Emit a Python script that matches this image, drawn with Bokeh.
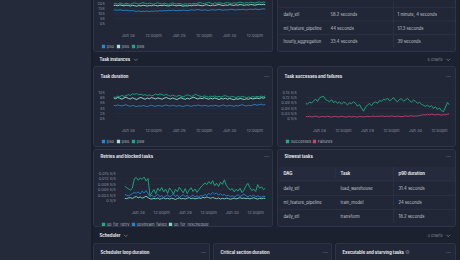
import numpy as np
from bokeh.plotting import figure
from bokeh.models import Spacer, FixedTicker, Range1d, Row, Column
from bokeh.core.properties import value
from bokeh.embed import file_html
from bokeh.resources import INLINE

# ---------------- data ----------------
t_start = "2025-06-27T17:00"
t_end = "2025-06-30T17:00"
x_tick_times = ["2025-06-28T00:00", "2025-06-28T12:00", "2025-06-29T00:00",
                "2025-06-29T12:00", "2025-06-30T00:00", "2025-06-30T12:00"]
x_tick_labels = ["Jun 28", "12:00pm", "Jun 29", "12:00pm", "Jun 30", "12:00pm"]

run_p50 = [13.6,13.8,13.4,13.9,13.5,13.2,13.6,13.1,12.9,13.3,12.6,12.4,12.8,12.2,12.5,12.3,12.7,12.1,12.6,12.4,
           12.9,12.5,13.0,12.7,13.2,12.9,13.4,13.1,13.6,13.3,13.0,13.5,13.2,13.7,13.4,13.1,13.6,13.9,13.5,13.8,
           14.2,13.7,13.4,13.9,13.6,13.3,13.8,14.0,13.6,13.9,14.3,13.8,13.5,14.0,13.7,14.1,14.5,14.0,13.7,14.2,
           13.9,14.4,14.1,13.8,14.3,14.6,14.2,14.8,14.4,14.1,14.6,14.9,14.5]
run_p90 = [18.2,18.6,18.0,18.9,18.4,17.9,18.7,18.3,17.8,18.5,18.1,17.6,18.3,17.9,18.6,18.2,17.7,18.4,18.0,18.8,
           18.3,17.9,18.5,18.1,18.7,18.2,17.8,18.4,18.9,18.3,17.9,18.6,18.2,17.6,18.1,17.8,18.4,18.0,18.7,18.3,
           18.9,18.4,18.0,18.6,19.1,18.5,18.1,18.8,18.3,18.9,19.3,18.7,18.2,18.9,18.5,19.2,18.8,18.4,19.0,18.6,
           19.3,18.9,18.5,19.1,18.7,19.4,19.0,18.6,19.2,19.6,19.1,19.5,19.0]
run_p99 = [19.8,20.5,19.6,20.9,20.2,19.5,20.7,20.1,19.4,20.3,21.0,20.4,19.7,20.6,21.2,20.5,19.9,20.8,20.2,19.6,
           20.4,21.1,20.3,19.8,20.7,20.0,19.5,20.2,20.9,20.3,19.7,20.5,19.9,19.4,20.1,19.6,20.3,19.8,20.6,20.0,
           20.8,21.3,20.6,20.1,20.9,21.5,20.8,20.2,21.0,20.5,21.2,20.7,20.1,20.9,21.4,20.8,20.3,21.1,20.6,21.3,
           21.8,21.1,20.6,21.4,20.9,21.7,21.2,20.8,21.5,22.0,21.3,21.9,21.4]
run_ticks = [0, 5, 10, 15, 20]
run_tick_labels = ["0s", "5s", "10s", "15s", "20s"]

task_p50 = [5.1,4.9,5.2,5.0,4.8,5.1,5.3,4.9,4.7,5.0,4.8,4.6,4.9,4.7,5.0,4.8,4.6,4.9,5.1,4.8,
            4.7,5.0,4.9,4.7,5.0,5.2,4.9,4.8,5.1,4.9,4.7,5.0,4.8,4.6,4.9,5.1,4.8,4.7,5.0,4.9,
            5.2,5.0,4.8,5.1,4.9,4.7,5.0,4.8,5.1,4.9,4.7,5.0,5.2,4.9,4.8,5.1,4.9,4.7,5.0,4.8,
            5.1,5.3,5.0,4.8,5.1,4.9,5.2,5.4,5.1,5.3,5.5,5.2,5.4]
task_p90 = [7.9,7.6,8.1,7.8,7.4,7.9,8.2,7.7,7.5,8.0,7.6,7.3,7.8,8.1,7.7,7.4,7.9,7.6,8.0,7.8,
            7.5,7.9,7.7,7.4,7.8,8.1,7.7,7.5,7.9,7.6,7.3,7.7,8.0,7.6,7.4,7.8,7.5,7.9,8.2,7.8,
            7.5,7.9,7.6,8.0,7.7,7.4,7.8,7.5,7.9,7.6,7.3,7.7,7.5,7.8,7.4,7.7,7.5,7.2,7.6,7.4,
            7.7,7.5,7.3,7.6,7.4,7.8,7.5,7.7,7.9,7.6,8.0,7.8,8.1]
task_p99 = [8.3,8.1,8.6,8.4,8.9,8.5,8.8,9.2,8.9,9.5,9.3,9.6,9.1,9.4,8.9,9.2,8.8,9.1,8.7,9.0,
            9.4,9.1,9.5,9.2,8.9,9.3,8.8,8.6,9.0,8.7,8.5,8.9,8.6,8.3,8.7,9.1,8.8,8.5,8.9,9.3,
            8.8,8.6,8.4,8.7,8.5,8.2,8.6,8.4,8.7,8.3,8.5,8.2,8.6,8.8,8.4,8.2,8.5,8.3,8.1,8.4,
            8.2,8.5,8.3,8.0,8.3,8.1,8.4,8.2,8.5,8.3,8.6,8.4,8.7]
task_ticks = [0, 2, 4, 6, 8, 10]
task_tick_labels = ["0s", "2s", "4s", "6s", "8s", "10s"]

successes = [0.088,0.082,0.095,0.090,0.101,0.112,0.098,0.118,0.125,0.128,0.110,0.104,0.097,0.108,0.092,0.100,
             0.087,0.096,0.083,0.094,0.089,0.078,0.091,0.085,0.097,0.088,0.072,0.080,0.060,0.042,0.065,0.078,
             0.086,0.074,0.090,0.096,0.088,0.104,0.099,0.112,0.106,0.118,0.102,0.109,0.121,0.105,0.097,0.110,
             0.114,0.100,0.108,0.116,0.103,0.095,0.106,0.099,0.088,0.093,0.082,0.076,0.070,0.078,0.066,0.074,
             0.058,0.068,0.052,0.061,0.045,0.040,0.066,0.092,0.078]
failures = [0.012,0.010,0.013,0.009,0.011,0.014,0.010,0.008,0.012,0.011,0.009,0.013,0.010,0.008,0.011,0.012,
            0.009,0.010,0.013,0.011,0.008,0.010,0.012,0.009,0.011,0.010,0.008,0.012,0.010,0.009,0.011,0.013,
            0.010,0.012,0.014,0.011,0.013,0.012,0.015,0.013,0.011,0.014,0.012,0.015,0.013,0.011,0.014,0.012,
            0.010,0.013,0.015,0.012,0.014,0.016,0.013,0.015,0.014,0.017,0.019,0.022,0.020,0.024,0.021,0.025,
            0.023,0.020,0.024,0.022,0.019,0.023,0.021,0.025,0.027]
rate_ticks = [0, 0.03, 0.06, 0.09, 0.12, 0.15]
rate_tick_labels = ["0 s/s", "0.03 s/s", "0.06 s/s", "0.09 s/s", "0.12 s/s", "0.15 s/s"]

up_for_retry = [0.0080,0.0072,0.0065,0.0058,0.0068,0.0120,0.0128,0.0112,0.0125,0.0118,0.0130,0.0108,0.0122,
                0.0027,0.0045,0.0060,0.0038,0.0068,0.0052,0.0072,0.0048,0.0063,0.0040,0.0070,0.0055,0.0036,
                0.0062,0.0049,0.0074,0.0058,0.0043,0.0066,0.0039,0.0057,0.0071,0.0050,0.0064,0.0045,0.0060,
                0.0075,0.0085,0.0098,0.0088,0.0105,0.0092,0.0110,0.0082,0.0096,0.0078,0.0102,0.0090,0.0115,
                0.0084,0.0070,0.0058,0.0066,0.0048,0.0062,0.0052,0.0068,0.0044,0.0058,0.0080,0.0095,0.0072,
                0.0055,0.0063,0.0050,0.0088,0.0068,0.0076,0.0060,0.0070]
upstream_failed = [0.0035,0.0030,0.0026,0.0032,0.0038,0.0045,0.0040,0.0048,0.0036,0.0052,0.0042,0.0055,0.0038,
                   0.0022,0.0030,0.0018,0.0026,0.0034,0.0020,0.0028,0.0016,0.0024,0.0032,0.0019,0.0027,0.0036,
                   0.0022,0.0030,0.0017,0.0025,0.0033,0.0021,0.0029,0.0015,0.0023,0.0031,0.0020,0.0026,0.0018,
                   0.0028,0.0024,0.0034,0.0027,0.0040,0.0032,0.0045,0.0036,0.0042,0.0030,0.0038,0.0028,0.0035,
                   0.0024,0.0030,0.0021,0.0027,0.0019,0.0025,0.0032,0.0022,0.0029,0.0036,0.0026,0.0020,0.0028,
                   0.0023,0.0031,0.0019,0.0026,0.0022,0.0018,0.0024,0.0020]
up_for_reschedule = [0.0012,0.0010,0.0014,0.0016,0.0011,0.0018,0.0022,0.0015,0.0020,0.0013,0.0017,0.0024,0.0016,
                     0.0010,0.0008,0.0012,0.0009,0.0014,0.0007,0.0011,0.0015,0.0009,0.0013,0.0008,0.0012,0.0010,
                     0.0006,0.0011,0.0014,0.0009,0.0012,0.0008,0.0013,0.0016,0.0010,0.0014,0.0009,0.0012,0.0015,
                     0.0011,0.0018,0.0014,0.0020,0.0016,0.0012,0.0017,0.0013,0.0010,0.0014,0.0008,0.0012,0.0009,
                     0.0013,0.0011,0.0007,0.0010,0.0013,0.0009,0.0012,0.0016,0.0011,0.0014,0.0010,0.0013,0.0009,
                     0.0012,0.0015,0.0011,0.0008,0.0012,0.0010,0.0013,0.0011]
retry_ticks = [0, 0.003, 0.006, 0.009, 0.012, 0.015]
retry_tick_labels = ["0 s/s", "0.003 s/s", "0.006 s/s", "0.009 s/s", "0.012 s/s", "0.015 s/s"]

dag_names = ["daily_etl", "ml_feature_pipeline", "hourly_aggregation"]
dag_p90 = ["58.2 seconds", "44 seconds", "33.4 seconds"]
dag_p99 = ["1 minute, 4 seconds", "51.3 seconds", "39 seconds"]

slow_headers = ["DAG", "Task", "p90 duration"]
slow_dags = ["daily_etl", "ml_feature_pipeline", "daily_etl"]
slow_tasks = ["load_warehouse", "train_model", "transform"]
slow_p90 = ["31.4 seconds", "24 seconds", "18.2 seconds"]

# ---------------- style ----------------
FONT = "Inter"
PAGE = "#1c2130"
SIDE = "#242a3a"
EDGE = "#191d29"
PANEL = "#212737"
BORDER = "#2e3546"
GRID = "#2a3141"
TITLE = "#e6e8ec"
SUB = "#858c9b"
LEG = "#aab0bc"
CELL = "#c0c5cf"
DOTS = "#737a8a"
C_P50 = "#2c86d1"
C_P90 = "#a3e2d8"
C_P99 = "#1aa985"
C_OK = "#1fae84"
C_FAIL = "#c8456f"
C_RETRY = "#1fae84"
C_UPF = "#2286d2"
C_RESCH = "#86d6c8"
TITLE_SIZE = "4.2px"
CELL_SIZE = "4.2px"


def ms(s):
    return float(np.datetime64(s, "ms").astype("int64"))


T0, T1 = ms(t_start), ms(t_end)
XT = [ms(s) for s in x_tick_times]


def text_fig(w, h, bg=PANEL):
    p = figure(width=w, height=h, x_range=Range1d(0, w), y_range=Range1d(h, 0),
               output_backend="svg", toolbar_location=None, frame_align=False, title=None,
               x_axis_location=None, y_axis_location=None, min_border=0,
               background_fill_color=bg, border_fill_color=bg, outline_line_color=None)
    p.grid.visible = False
    return p


def txt(p, xs, ys, ss, size, color, bold=False, align="left"):
    p.text(x=xs, y=ys, text=ss, text_font=value(FONT), text_font_size=size,
           text_color=color, text_font_style="bold" if bold else "normal",
           text_align=align, text_baseline="middle")


def chevron(p, x, y, color=SUB):
    p.line(x=[x, x + 1.8, x + 3.6], y=[y - 0.9, y + 0.9, y - 0.9], line_color=color, line_width=0.7)


def header(w, h, title, ty, dots_x, info_x=None):
    p = text_fig(w, h)
    txt(p, [6], [ty], [title], TITLE_SIZE, TITLE, bold=True)
    txt(p, [dots_x], [ty - 0.3], ["···"], "5px", DOTS, bold=True, align="center")
    if info_x is not None:
        p.circle(x=[info_x], y=[ty], radius=1.6, fill_color=None, line_color=SUB, line_width=0.6)
        txt(p, [info_x], [ty + 0.1], ["i"], "2.5px", SUB, bold=True, align="center")
    return p


def chart(w, h, mb, ymax, yticks, ylabels, series):
    p = figure(width=w, height=h, x_range=Range1d(T0, T1), y_range=Range1d(0, ymax),
               output_backend="svg", toolbar_location=None, frame_align=False, title=None,
               min_border_left=mb[0], min_border_right=mb[1], min_border_top=mb[2], min_border_bottom=mb[3],
               background_fill_color=PANEL, border_fill_color=PANEL, outline_line_color=None)
    for vals, col in series:
        p.line(np.linspace(T0, T1, len(vals)), vals, line_color=col, line_width=0.9)
    xa, ya = p.xaxis[0], p.yaxis[0]
    xa.ticker = FixedTicker(ticks=XT)
    xa.major_label_overrides = dict(zip(XT, x_tick_labels))
    ya.ticker = FixedTicker(ticks=yticks)
    ya.major_label_overrides = dict(zip(yticks, ylabels))
    for a in (xa, ya):
        a.axis_line_color = None
        a.major_tick_line_color = None
        a.minor_tick_line_color = None
        a.major_label_text_font = FONT
        a.major_label_text_font_size = "4px"
        a.major_label_text_color = SUB
        a.major_label_standoff = 3
    p.xgrid.visible = False
    p.ygrid.ticker = FixedTicker(ticks=yticks)
    p.ygrid.grid_line_color = GRID
    p.ygrid.grid_line_width = 0.5
    return p


def legend(w, h, cy, xs, labels, colors):
    p = text_fig(w, h)
    p.scatter(x=xs, y=[cy] * len(xs), marker="square", size=3.3, fill_color=colors, line_color=None)
    txt(p, [x + 3.2 for x in xs], [cy] * len(xs), labels, "4px", LEG)
    return p


def panel(children, top=True, bottom=True):
    st = {"border": "1px solid " + BORDER, "border-radius": "3px",
          "background-color": PANEL, "overflow": "hidden"}
    if not top:
        st["border-top"] = "none"
        st["border-radius"] = "0 0 3px 3px"
    if not bottom:
        st["border-bottom"] = "none"
        st["border-radius"] = "3px 3px 0 0"
    return Column(children=children, styles=st)


# ---------------- row 1 (top, partly scrolled off) ----------------
tl_chart = chart(178, 40, (19, 7, 0, 9), 23.4, run_ticks, run_tick_labels,
                 [(run_p50, C_P50), (run_p90, C_P90), (run_p99, C_P99)])
tl_leg = legend(178, 11, 5, [9, 24, 39], ["p50", "p90", "p99"], [C_P50, C_P90, C_P99])

tr_tab = text_fig(177, 51)
row_y = [14, 27.5, 41]
tr_tab.segment(x0=[0, 0, 0], y0=[7, 20.5, 34], x1=[177, 177, 177], y1=[7, 20.5, 34],
               line_color=BORDER, line_width=0.7)
tr_tab.segment(x0=[115], y0=[0], x1=[115], y1=[47.5], line_color=BORDER, line_width=0.7)
txt(tr_tab, [5] * 3, row_y, dag_names, CELL_SIZE, CELL)
txt(tr_tab, [52] * 3, row_y, dag_p90, CELL_SIZE, CELL)
txt(tr_tab, [119] * 3, row_y, dag_p99, CELL_SIZE, CELL)

row1 = Row(children=[panel([tl_chart, tl_leg], top=False), Spacer(width=4, height=52),
                     panel([tr_tab], top=False)])

# ---------------- section header: Task instances ----------------
sec1 = text_fig(367, 14, PAGE)
txt(sec1, [6], [7], ["Task instances"], "4.2px", TITLE, bold=True)
chevron(sec1, 40.5, 7.2)
txt(sec1, [349], [7], ["4 charts"], "3.9px", SUB, align="right")
chevron(sec1, 353, 7.2)

# ---------------- row 2 ----------------
td_head = header(178, 17, "Task duration", 8.5, 172)
td_chart = chart(178, 51, (19, 7, 8, 11), 10, task_ticks, task_tick_labels,
                 [(task_p50, C_P50), (task_p90, C_P90), (task_p99, C_P99)])
td_leg = legend(178, 11, 5, [9, 24, 39], ["p50", "p90", "p99"], [C_P50, C_P90, C_P99])

ts_head = header(177, 17, "Task successes and failures", 8.5, 170)
ts_chart = chart(177, 51, (23, 6, 8, 11), 0.15, rate_ticks, rate_tick_labels,
                 [(failures, C_FAIL), (successes, C_OK)])
ts_leg = legend(177, 11, 5, [9, 36], ["Successes", "Failures"], [C_OK, C_FAIL])

row2 = Row(children=[panel([td_head, td_chart, td_leg]), Spacer(width=4, height=81),
                     panel([ts_head, ts_chart, ts_leg])])

# ---------------- row 3 ----------------
rb_head = header(178, 15, "Retries and blocked tasks", 6, 172)
rb_chart = chart(178, 52, (28, 7, 8, 11), 0.015, retry_ticks, retry_tick_labels,
                 [(up_for_reschedule, C_RESCH), (upstream_failed, C_UPF), (up_for_retry, C_RETRY)])
rb_leg = legend(178, 9, 4, [9, 39, 76], ["up_for_retry", "upstream_failed", "up_for_reschedule"],
                [C_RETRY, C_UPF, C_RESCH])

st_head = header(177, 15, "Slowest tasks", 6, 170)
st_tab = text_fig(177, 61)
st_tab.quad(left=[0], right=[177], top=[1], bottom=[15.5], fill_color="#252b3c", line_color=None)
srow_y = [23, 37, 51]
st_tab.segment(x0=[0, 0, 0], y0=[15.5, 30, 44], x1=[177, 177, 177], y1=[15.5, 30, 44],
               line_color=BORDER, line_width=0.7)
st_tab.segment(x0=[115, 57], y0=[1, 3.5], x1=[115, 57], y1=[57.5, 12.5], line_color=BORDER, line_width=0.7)
txt(st_tab, [5, 62, 120], [8, 8, 8], slow_headers, CELL_SIZE, TITLE, bold=True)
txt(st_tab, [5] * 3, srow_y, slow_dags, CELL_SIZE, CELL)
txt(st_tab, [62] * 3, srow_y, slow_tasks, CELL_SIZE, CELL)
txt(st_tab, [120] * 3, srow_y, slow_p90, CELL_SIZE, CELL)

row3 = Row(children=[panel([rb_head, rb_chart, rb_leg]), Spacer(width=4, height=78),
                     panel([st_head, st_tab])])

# ---------------- section header: Scheduler ----------------
sec2 = text_fig(367, 16, PAGE)
txt(sec2, [6], [8], ["Scheduler"], "4.2px", TITLE, bold=True)
chevron(sec2, 30.5, 8.2)
txt(sec2, [349], [8], ["3 charts"], "3.9px", SUB, align="right")
chevron(sec2, 353, 8.2)

# ---------------- row 4 (cut off at the bottom) ----------------
b1 = header(115, 16, "Scheduler loop duration", 7.5, 109)
b2 = header(117, 16, "Critical section duration", 7.5, 111)
b3 = header(119, 16, "Executable and starving tasks", 7.5, 112, info_x=71)
row4 = Row(children=[panel([b1], bottom=False), Spacer(width=3, height=17),
                     panel([b2], bottom=False), Spacer(width=3, height=17),
                     panel([b3], bottom=False)])

main = Column(children=[row1, sec1, row2, Spacer(width=363, height=2), row3, sec2, row4])
p = Row(children=[Spacer(width=91, height=260, styles={"background-color": SIDE}),
                  Spacer(width=2, height=260, styles={"background-color": EDGE}),
                  main],
        styles={"background-color": PAGE})

open("out.html", "w").write(file_html(p, INLINE))
